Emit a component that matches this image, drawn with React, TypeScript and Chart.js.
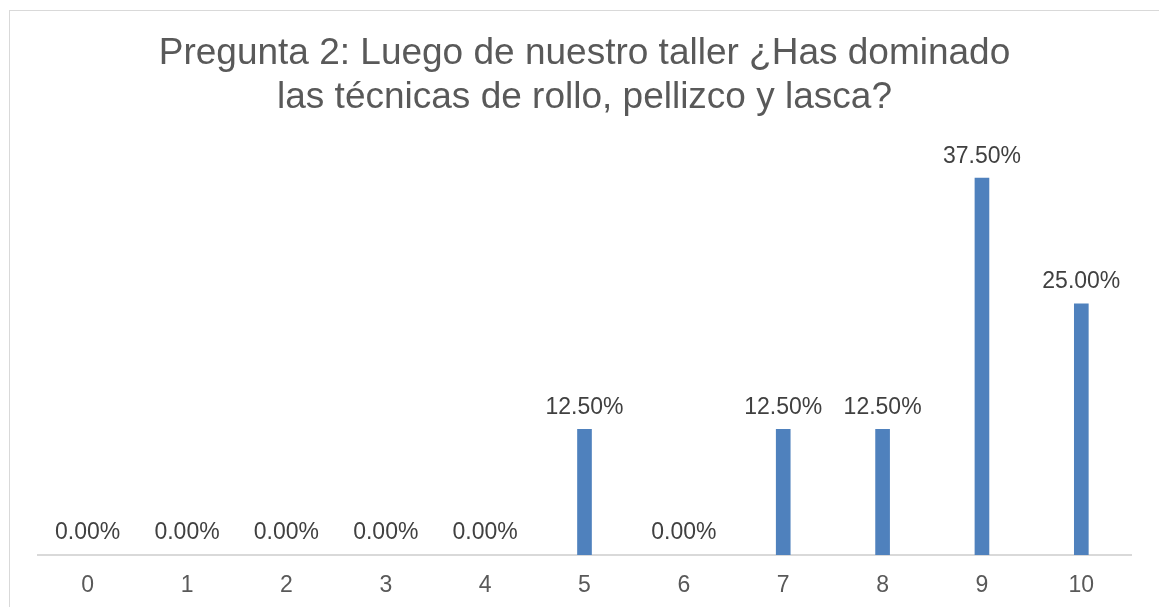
import React, { useEffect, useRef } from "react";
import { Chart, registerables } from "chart.js";

Chart.register(...registerables);

const titleLines = ["Pregunta 2: Luego de nuestro taller ¿Has dominado", "las técnicas de rollo, pellizco y lasca?"];
const categories = ["0", "1", "2", "3", "4", "5", "6", "7", "8", "9", "10"];
const values = [0, 0, 0, 0, 0, 12.5, 0, 12.5, 12.5, 37.5, 25];

const FONT = "'Liberation Sans', Arial, sans-serif";

const labelPlugin = {
  id: "barLabels",
  afterDatasetsDraw(chart: any) {
    const ctx = chart.ctx;
    const meta = chart.getDatasetMeta(0);
    ctx.save();
    ctx.font = `23px ${FONT}`;
    ctx.fillStyle = "#404040";
    ctx.textAlign = "center";
    ctx.textBaseline = "middle";
    meta.data.forEach((bar: any, i: number) => {
      const v = values[i];
      ctx.fillText(v.toFixed(2) + "%", bar.x, bar.y - 22);
    });
    ctx.restore();
  },
};

export default function App() {
  const ref = useRef<HTMLCanvasElement>(null);
  useEffect(() => {
    if (!ref.current) return;
    const chart = new Chart(ref.current, {
      type: "bar",
      data: {
        labels: categories,
        datasets: [
          {
            data: values,
            backgroundColor: (c: any) => (c.raw === 0 ? "rgba(0,0,0,0)" : "#4F81BD"),
            barThickness: 14,
          },
        ],
      },
      options: {
        animation: false,
        responsive: false,
        maintainAspectRatio: false,
        layout: { padding: { left: 38, right: 28, top: 1, bottom: 0 } },
        plugins: {
          legend: { display: false },
          tooltip: { enabled: false },
          title: {
            display: true,
            text: titleLines,
            color: "#595959",
            font: { family: FONT, size: 37, weight: "normal", lineHeight: 1.19 },
            padding: { top: 31, bottom: 33 },
          },
        },
        scales: {
          x: {
            grid: { display: false, drawTicks: false },
            border: { display: true, color: "#D9D9D9", width: 2 },
            ticks: { color: "#595959", font: { family: FONT, size: 23 }, padding: 17 },
            afterFit: (scale: any) => {
              scale.height = 52;
            },
          },
          y: { display: false, min: 0, max: 40 },
        },
      },
      plugins: [labelPlugin],
    });
    return () => chart.destroy();
  }, []);
  return (
    <div style={{ position: "fixed", left: 0, top: 0, width: 1159, height: 607, overflow: "hidden", background: "#fff" }}>
      <div style={{ position: "absolute", left: 9, top: 10, width: 1300, height: 800, border: "1px solid #D9D9D9", boxSizing: "border-box" }} />
      <canvas ref={ref} width={1159} height={607} style={{ position: "absolute", left: 0, top: 0 }} />
    </div>
  );
}
